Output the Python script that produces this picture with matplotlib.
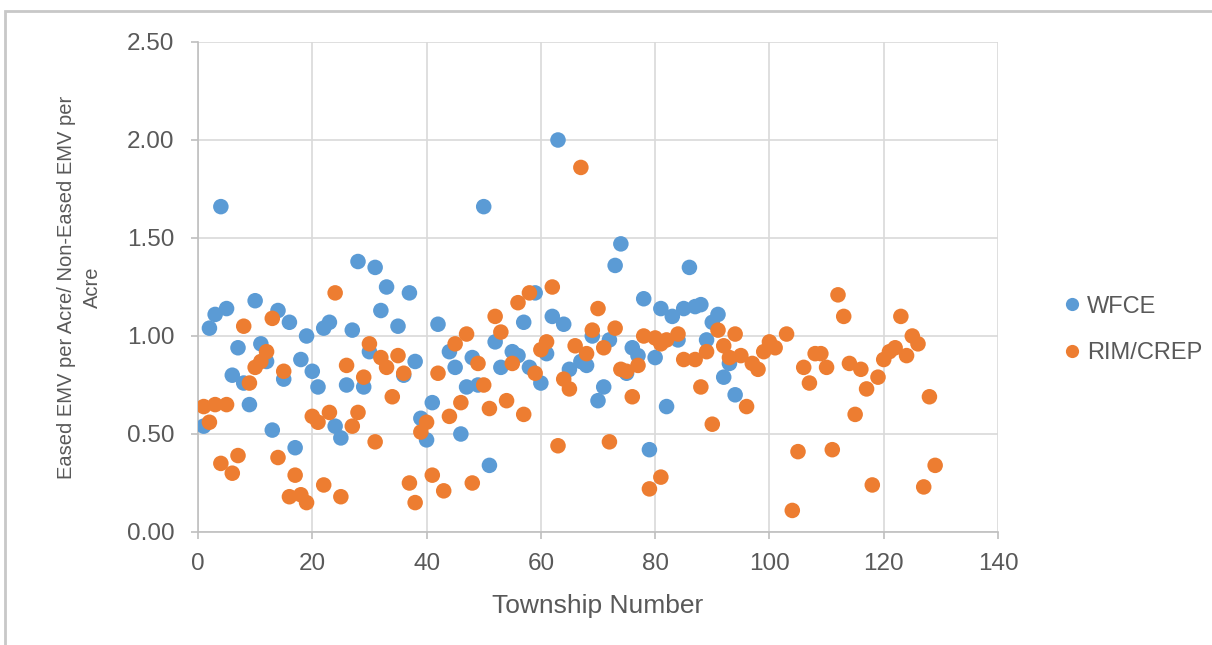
import matplotlib
matplotlib.use("Agg")
import matplotlib.pyplot as plt
from matplotlib.patches import Rectangle
from matplotlib.ticker import FormatStrFormatter
from matplotlib.lines import Line2D

# ---- data ----
wfce_x = [1, 2, 3, 4, 5, 6, 7, 8, 9, 10, 11, 12, 13, 14, 15, 16, 17, 18, 19, 20,
          21, 22, 23, 24, 25, 26, 27, 28, 29, 30, 31, 32, 33, 35, 36, 37, 38, 39, 40, 41,
          42, 44, 45, 46, 47, 48, 49, 50, 51, 52, 53, 55, 56, 57, 58, 59, 60, 61, 62, 63,
          64, 65, 67, 68, 69, 70, 71, 72, 73, 74, 75, 76, 77, 78, 79, 80, 81, 82, 83, 84,
          85, 86, 87, 88, 89, 90, 91, 92, 93, 94]
wfce_y = [0.54, 1.04, 1.11, 1.66, 1.14, 0.80, 0.94, 0.76, 0.65, 1.18, 0.96, 0.87, 0.52, 1.13, 0.78, 1.07, 0.43, 0.88, 1.00, 0.82,
          0.74, 1.04, 1.07, 0.54, 0.48, 0.75, 1.03, 1.38, 0.74, 0.92, 1.35, 1.13, 1.25, 1.05, 0.80, 1.22, 0.87, 0.58, 0.47, 0.66,
          1.06, 0.92, 0.84, 0.50, 0.74, 0.89, 0.75, 1.66, 0.34, 0.97, 0.84, 0.92, 0.90, 1.07, 0.84, 1.22, 0.76, 0.91, 1.10, 2.00,
          1.06, 0.83, 0.87, 0.85, 1.00, 0.67, 0.74, 0.98, 1.36, 1.47, 0.81, 0.94, 0.90, 1.19, 0.42, 0.89, 1.14, 0.64, 1.10, 0.98,
          1.14, 1.35, 1.15, 1.16, 0.98, 1.07, 1.11, 0.79, 0.86, 0.70]

rim_x = [1, 2, 3, 4, 5, 6, 7, 8, 9, 10, 11, 12, 13, 14, 15, 16, 17, 18, 19, 20,
         21, 22, 23, 24, 25, 26, 27, 28, 29, 30, 31, 32, 33, 34, 35, 36, 37, 38, 39, 40,
         41, 42, 43, 44, 45, 46, 47, 48, 49, 50, 51, 52, 53, 54, 55, 56, 57, 58, 59, 60,
         61, 62, 63, 64, 65, 66, 67, 68, 69, 70, 71, 72, 73, 74, 75, 76, 77, 78, 79, 80,
         81, 81, 82, 84, 85, 87, 88, 89, 90, 91, 92, 93, 94, 95, 96, 97, 98, 99, 100, 101,
         103, 104, 105, 106, 107, 108, 109, 110, 111, 112, 113, 114, 115, 116, 117, 118, 119, 120, 121, 122,
         123, 124, 125, 126, 127, 128, 129]
rim_y = [0.64, 0.56, 0.65, 0.35, 0.65, 0.30, 0.39, 1.05, 0.76, 0.84, 0.87, 0.92, 1.09, 0.38, 0.82, 0.18, 0.29, 0.19, 0.15, 0.59,
         0.56, 0.24, 0.61, 1.22, 0.18, 0.85, 0.54, 0.61, 0.79, 0.96, 0.46, 0.89, 0.84, 0.69, 0.90, 0.81, 0.25, 0.15, 0.51, 0.56,
         0.29, 0.81, 0.21, 0.59, 0.96, 0.66, 1.01, 0.25, 0.86, 0.75, 0.63, 1.10, 1.02, 0.67, 0.86, 1.17, 0.60, 1.22, 0.81, 0.93,
         0.97, 1.25, 0.44, 0.78, 0.73, 0.95, 1.86, 0.91, 1.03, 1.14, 0.94, 0.46, 1.04, 0.83, 0.82, 0.69, 0.85, 1.00, 0.22, 0.99,
         0.28, 0.96, 0.98, 1.01, 0.88, 0.88, 0.74, 0.92, 0.55, 1.03, 0.95, 0.89, 1.01, 0.90, 0.64, 0.86, 0.83, 0.92, 0.97, 0.94,
         1.01, 0.11, 0.41, 0.84, 0.76, 0.91, 0.91, 0.84, 0.42, 1.21, 1.10, 0.86, 0.60, 0.83, 0.73, 0.24, 0.79, 0.88, 0.92, 0.94,
         1.10, 0.90, 1.00, 0.96, 0.23, 0.69, 0.34]

series_names = ["WFCE", "RIM/CREP"]
x_ticks = [0, 20, 40, 60, 80, 100, 120, 140]
y_ticks = [0.0, 0.5, 1.0, 1.5, 2.0, 2.5]
x_label = "Township Number"
y_label = "Eased EMV per Acre/ Non-Eased EMV per\nAcre"

# ---- styling ----
BLUE = "#5B9BD5"
ORANGE = "#ED7D31"
TXT = "#595959"
GRID = "#D9D9D9"
FONT = ["Liberation Sans", "DejaVu Sans"]
NARROW = ["Liberation Sans Narrow", "Liberation Sans", "DejaVu Sans"]
plt.rcParams["font.family"] = FONT

W, H = 1212, 645
fig = plt.figure(figsize=(W / 100, H / 100), dpi=100)

# outer chart border
fig.patches.append(Rectangle((5 / W, -0.1), 1.2, 1 - 11 / H + 0.1,
                             transform=fig.transFigure, fill=False,
                             edgecolor="#C8C8C8", linewidth=2.0, zorder=0))

ax = fig.add_axes([198 / W, 1 - 532 / H, (998 - 198) / W, (532 - 42) / H])
ax.set_xlim(0, 140)
ax.set_ylim(0, 2.5)
ax.set_xticks(x_ticks)
ax.set_yticks(y_ticks)
ax.yaxis.set_major_formatter(FormatStrFormatter("%.2f"))
ax.grid(True, color=GRID, linewidth=1.2, zorder=0)
ax.set_axisbelow(True)
for side in ["top", "right"]:
    ax.spines[side].set_visible(False)
for side in ["left", "bottom"]:
    ax.spines[side].set_color("#BFBFBF")
    ax.spines[side].set_linewidth(1.2)
ax.tick_params(axis="both", colors="#BFBFBF", labelcolor=TXT, labelsize=17.5,
               length=5, width=1.2)
ax.tick_params(axis="x", pad=10)
ax.tick_params(axis="y", pad=12)

ms = 125
ax.scatter(wfce_x, wfce_y, s=ms, color=BLUE, edgecolors="none", zorder=3)
ax.scatter(rim_x, rim_y, s=ms, color=ORANGE, edgecolors="none", zorder=3)

ax.set_xlabel(x_label, fontsize=19, color=TXT, labelpad=14)
ax.set_ylabel(y_label, fontsize=14.5, color=TXT, linespacing=1.45)
ax.yaxis.set_label_coords((102 - 198) / 800, 0.5)

handles = [Line2D([], [], linestyle="none", marker="o", markersize=9.5,
                  markerfacecolor=c, markeredgecolor="none")
           for c in (BLUE, ORANGE)]
leg = fig.legend(handles, series_names, loc="center left",
                 bbox_to_anchor=(1060 / W, 1 - 330 / H),
                 frameon=False, borderpad=0, borderaxespad=0,
                 labelspacing=1.05, handletextpad=0.15, handlelength=1.0,
                 prop={"family": NARROW, "size": 17})
for t in leg.get_texts():
    t.set_color(TXT)

fig.savefig("out.png", dpi=100)
